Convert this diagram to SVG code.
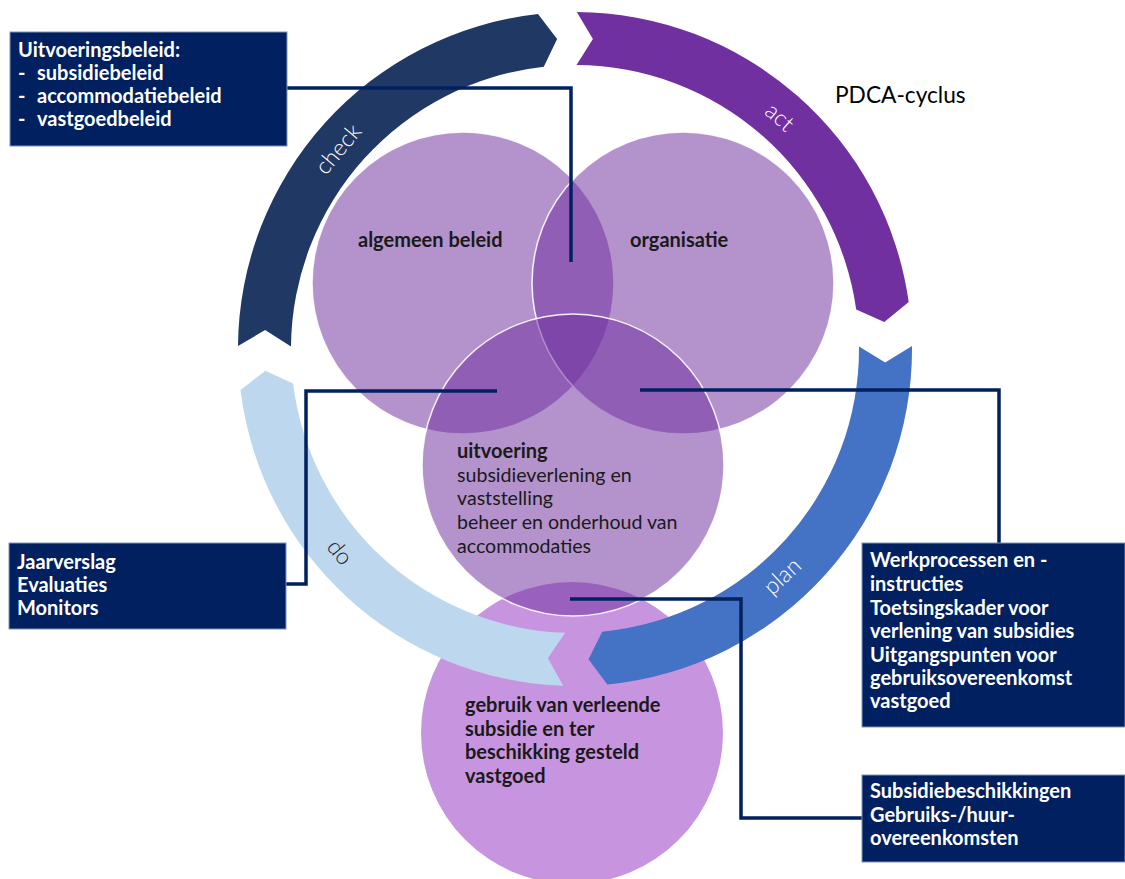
<svg xmlns="http://www.w3.org/2000/svg" width="1125" height="879" viewBox="0 0 1125 879">
<style>
.venn{fill:#7030A0;fill-opacity:0.52;stroke:#FFFFFF;stroke-width:1.5;stroke-opacity:0.9}
.box{fill:#002060;stroke:#7F93B8;stroke-width:1}
.bt{font-family:Lato,"Liberation Sans",sans-serif;font-weight:700;font-size:20px;fill:#FFFFFF}
.vt{font-family:Lato,"Liberation Sans",sans-serif;font-size:19.6px;fill:#1A1A1A}
.vb{font-weight:700;font-size:20px}
.arcl{font-family:Lato,"Liberation Sans",sans-serif;font-weight:300;font-size:23px;text-anchor:middle}
.conn{fill:none;stroke:#002060;stroke-width:3.5}
</style>
<rect width="1125" height="879" fill="#FFFFFF"/>

<g id="node-gebruik">
<circle cx="572" cy="733" r="151" fill="#C795DF"/>
</g>

<g id="ring">
<path id="arrow-act" fill="#7030A0" d="M576.8,12 A337,337 0 0 1 908.7,302.1 L884.3,321.9 L856.2,309.5 A284,284 0 0 0 576.5,65 L592.9,39 Z"/>
<path id="arrow-plan" fill="#4472C4" d="M912,346.1 A337,337 0 0 1 607.3,684.5 L588.5,659.2 L602.2,631.7 A284,284 0 0 0 859,346.5 L885.2,362.5 Z"/>
<path id="arrow-do" fill="#BDD7EE" d="M563.2,685.8 A337,337 0 0 1 240.5,390.1 L265.3,370.7 L293.1,383.6 A284,284 0 0 0 565.1,632.8 L547.9,658.3 Z"/>
<path id="arrow-check" fill="#203864" d="M238,346.1 A337,337 0 0 1 538,14 L557.1,39 L543.8,66.7 A284,284 0 0 0 291,346.5 L265.1,330 Z"/>
<text class="arcl" fill="#FFFFFF" transform="translate(338,149) rotate(-50)" dy="8">check</text>
<text class="arcl" fill="#FFFFFF" transform="translate(780,117) rotate(41)" dy="8">act</text>
<text class="arcl" fill="#FFFFFF" transform="translate(782,576) rotate(-43)" dy="8">plan</text>
<text class="arcl" fill="#262626" transform="translate(340,552) rotate(50)" dy="8">do</text>
</g>

<g id="node-algemeen">
<circle class="venn" cx="463" cy="283" r="151"/>
</g>
<g id="node-organisatie">
<circle class="venn" cx="683" cy="283" r="151"/>
</g>
<g id="node-uitvoering">
<circle class="venn" cx="573" cy="465" r="151"/>
</g>

<g id="venn-labels">
<text class="vt vb" x="358" y="247">algemeen beleid</text>
<text class="vt vb" x="630" y="247">organisatie</text>
<text class="vt vb" x="457" y="458">uitvoering</text>
<text class="vt" x="457" y="482">subsidieverlening en</text>
<text class="vt" x="457" y="505">vaststelling</text>
<text class="vt" x="457" y="529">beheer en onderhoud van</text>
<text class="vt" x="457" y="553">accommodaties</text>
<text class="vt vb" x="465" y="712">gebruik van verleende</text>
<text class="vt vb" x="465" y="736">subsidie en ter</text>
<text class="vt vb" x="465" y="759">beschikking gesteld</text>
<text class="vt vb" x="465" y="783">vastgoed</text>
</g>

<g id="connectors">
<path class="conn" d="M287,88 H571 V262"/>
<path class="conn" d="M286,584 H306 V391 H497"/>
<path class="conn" d="M640,390 H999 V543"/>
<path class="conn" d="M570,599 H741 V818 H862"/>
</g>

<g id="box-uitvoeringsbeleid">
<rect class="box" x="10" y="32" width="277" height="114"/>
<text class="bt" x="18" y="57">Uitvoeringsbeleid:</text>
<text class="bt" x="18" y="80">-</text><text class="bt" x="37" y="80">subsidiebeleid</text>
<text class="bt" x="18" y="103">-</text><text class="bt" x="37" y="103">accommodatiebeleid</text>
<text class="bt" x="18" y="126">-</text><text class="bt" x="37" y="126">vastgoedbeleid</text>
</g>

<g id="box-jaarverslag">
<rect class="box" x="9" y="543" width="277" height="86"/>
<text class="bt" x="17" y="569">Jaarverslag</text>
<text class="bt" x="17" y="592">Evaluaties</text>
<text class="bt" x="17" y="615">Monitors</text>
</g>

<g id="box-werkprocessen">
<rect class="box" x="862" y="543" width="263" height="184"/>
<text class="bt" x="870" y="567">Werkprocessen en -</text>
<text class="bt" x="870" y="591">instructies</text>
<text class="bt" x="870" y="615">Toetsingskader voor</text>
<text class="bt" x="870" y="638">verlening van subsidies</text>
<text class="bt" x="870" y="662">Uitgangspunten voor</text>
<text class="bt" x="870" y="685">gebruiksovereenkomst</text>
<text class="bt" x="870" y="708">vastgoed</text>
</g>

<g id="box-subsidiebeschikkingen">
<rect class="box" x="862" y="775" width="263" height="87"/>
<text class="bt" x="870" y="798">Subsidiebeschikkingen</text>
<text class="bt" x="870" y="822">Gebruiks-/huur-</text>
<text class="bt" x="870" y="845">overeenkomsten</text>
</g>

<g id="title">
<text x="835" y="103" font-family="Lato,'Liberation Sans',sans-serif" font-size="22.7px" fill="#000000">PDCA-cyclus</text>
</g>
</svg>
